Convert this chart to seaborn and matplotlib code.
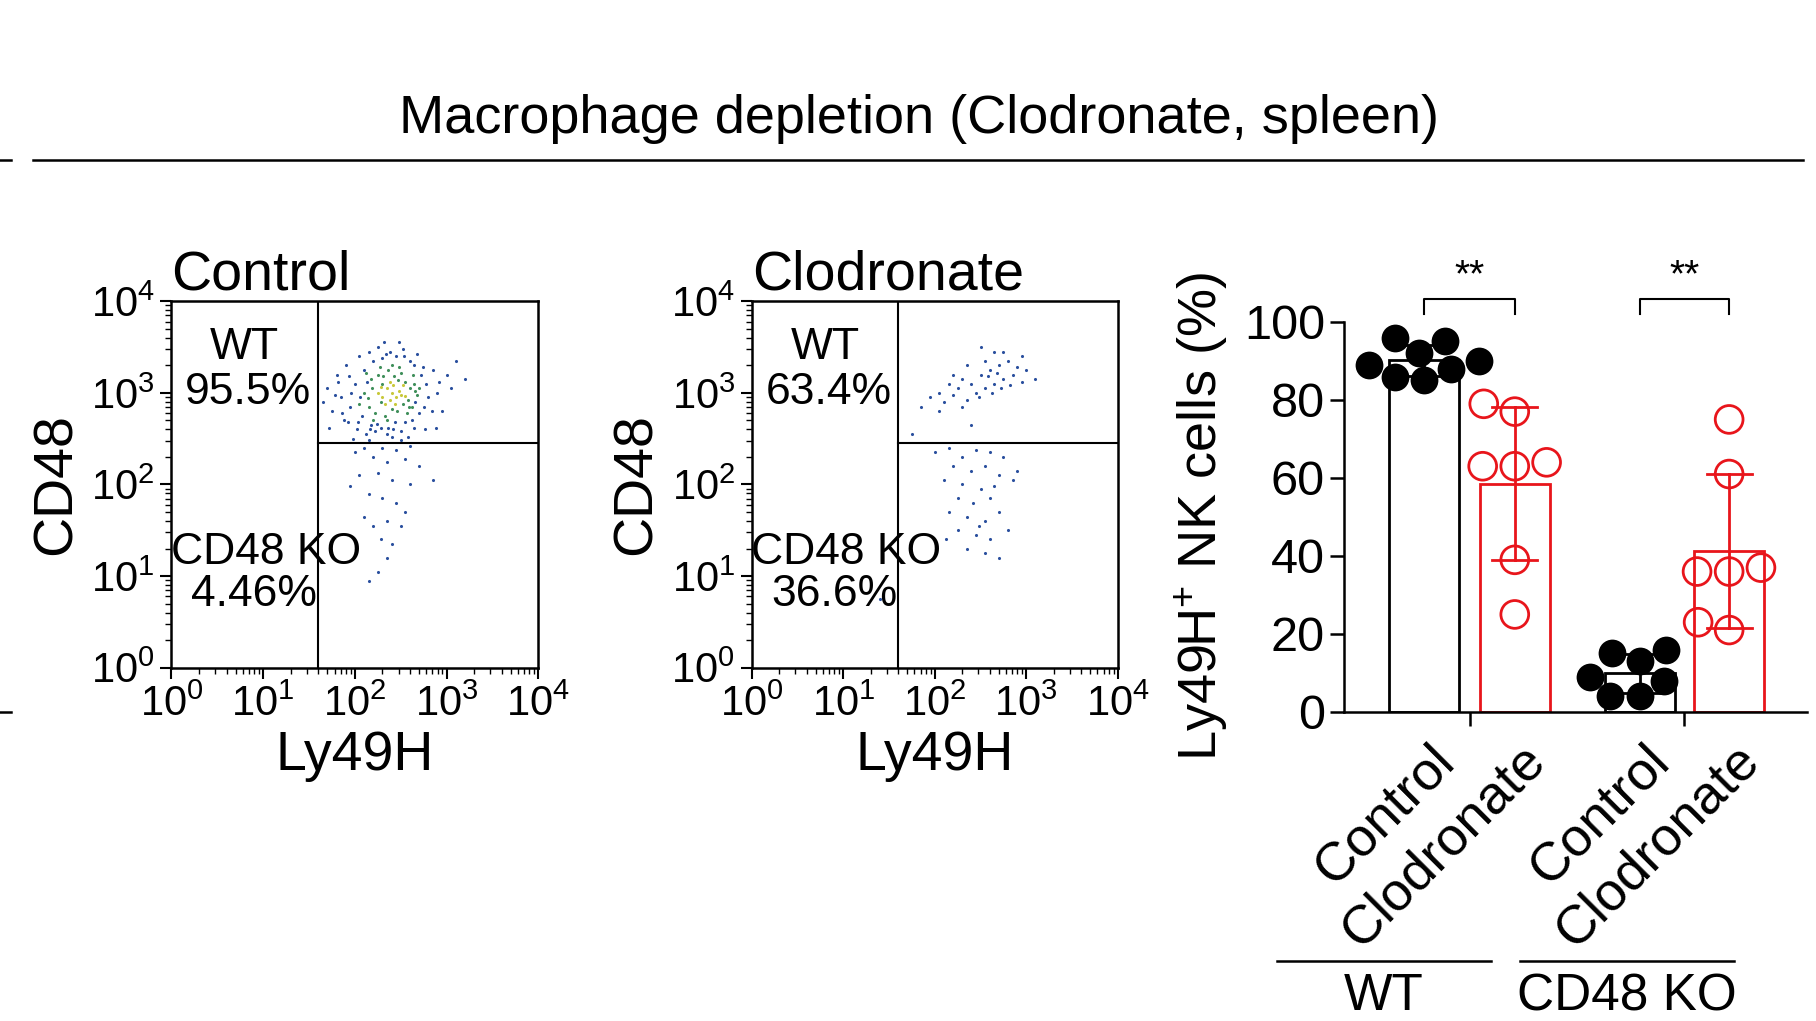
import numpy as np
import pandas as pd
import matplotlib
matplotlib.use("Agg")
import matplotlib.pyplot as plt
import seaborn as sns
from matplotlib.lines import Line2D

plt.rcParams["font.family"] = "Liberation Sans"
plt.rcParams["mathtext.fontset"] = "custom"
plt.rcParams["mathtext.rm"] = "Liberation Sans"

# ---------------- data ----------------
groups = ["Control", "Clodronate", "Control", "Clodronate"]
genotypes = ["WT", "CD48 KO"]
wt_control = [95, 96, 92, 89, 88, 86, 85, 90]
wt_clodronate = [79, 77, 63, 64, 63, 39, 25]
ko_control = [15, 13, 16, 8, 9, 4, 4]
ko_clodronate = [75, 61, 36, 37, 36, 23, 21]
sig_labels = ["**", "**"]

gate_x = 1.6   # log10 Ly49H gate
gate_y = 2.45  # log10 CD48 gate
ctrl_pct = ["95.5%", "4.46%"]
clod_pct = ["63.4%", "36.6%"]
decade_labels = [r"$\mathregular{10^{%d}}$" % i for i in range(5)]

# flow events (log10 Ly49H, log10 CD48)
ctrl_outer = [(1.70,3.05),(1.75,2.80),(1.80,3.20),(1.85,2.95),(1.88,2.70),(1.90,3.30),(1.95,2.85),(2.00,3.10),
              (2.02,2.60),(2.05,3.40),(2.08,2.75),(2.10,3.25),(2.12,2.55),(2.15,3.45),(2.18,2.65),(2.20,3.35),
              (2.22,2.58),(2.25,3.50),(2.28,2.62),(2.30,3.38),(2.35,2.55),(2.38,3.45),(2.42,2.60),(2.45,3.40),
              (2.50,2.58),(2.52,3.48),(2.55,2.68),(2.60,3.35),(2.62,2.70),(2.65,3.30),(2.70,2.78),(2.72,3.20),
              (2.75,2.85),(2.78,3.10),(2.80,2.95),(2.85,3.25),(2.90,3.00),(2.95,2.80),(3.00,3.20),(3.10,3.35),
              (3.20,3.15),(1.65,2.90),(1.72,2.62),(2.40,2.52),(2.58,2.52),(2.88,2.62),(1.98,2.50),(3.05,3.05),
              (1.82,3.12),(2.68,3.42),(1.92,2.68),(2.48,3.55),(2.32,3.55),(2.76,2.60),(2.06,2.95),(2.66,2.90),
              (1.78,2.98),(1.86,2.78),(1.94,3.18),(2.03,2.68),(2.13,3.12),(2.24,2.66),(2.34,3.42),(2.44,2.68),
              (2.54,3.40),(2.64,2.62),(2.74,3.28),(2.84,2.80),(2.92,3.12),(1.96,3.00),(2.16,2.60),(2.36,2.62)]
ctrl_mid = [(2.10,3.00),(2.15,2.85),(2.18,3.15),(2.22,2.78),(2.25,3.20),(2.28,2.90),(2.30,3.10),(2.33,2.75),
            (2.36,3.25),(2.40,2.82),(2.43,3.18),(2.46,2.80),(2.50,3.22),(2.52,2.88),(2.55,3.12),(2.58,2.92),
            (2.60,3.05),(2.62,2.85),(2.65,3.10),(2.68,2.98),(2.12,3.22),(2.20,2.70),(2.35,2.70),(2.48,3.28),
            (2.57,2.78),(2.70,3.05),(2.05,2.88),(2.40,3.30),(2.27,3.28),(2.63,3.20),(2.19,3.05),(2.31,3.18),
            (2.47,3.14),(2.59,2.84),(2.14,2.94),(2.66,3.02)]
ctrl_core = [(2.25,3.00),(2.30,2.95),(2.35,3.05),(2.38,2.92),(2.40,3.00),(2.42,3.08),(2.45,2.95),(2.48,3.02),
             (2.50,2.98),(2.33,2.88),(2.44,2.88),(2.52,3.08),(2.28,3.06),(2.38,3.12),(2.55,2.96)]
ctrl_tail = [(2.00,2.35),(2.10,2.40),(2.30,2.40),(2.45,2.38),(2.60,2.42),(2.20,2.30),(2.35,2.25),(2.55,2.28),
             (2.05,2.10),(2.25,2.12),(2.40,2.05),(2.60,2.00),(2.85,2.05),(1.95,1.98),(2.15,1.90),(2.30,1.85),
             (2.45,1.80),(2.55,1.70),(2.10,1.65),(2.20,1.55),(2.35,1.60),(2.50,1.55),(2.28,1.40),(2.40,1.35),
             (2.35,1.20),(2.25,1.05),(2.15,0.95),(2.70,2.20),(2.50,2.48),(2.15,2.48)]
clod_upper = [(1.85,2.85),(1.95,2.95),(2.05,3.00),(2.10,2.90),(2.15,3.10),(2.20,2.98),(2.25,3.05),(2.30,3.15),
              (2.35,2.92),(2.40,3.10),(2.45,3.00),(2.50,3.20),(2.55,3.05),(2.60,3.25),(2.65,3.10),(2.70,3.30),
              (2.75,3.15),(2.80,3.35),(2.85,3.20),(2.90,3.28),(2.95,3.12),(3.00,3.25),(3.10,3.15),(2.20,3.20),
              (2.35,3.30),(2.55,3.35),(2.65,3.45),(2.75,3.45),(2.05,2.80),(2.30,2.85),(2.48,2.95),(2.62,3.00),
              (2.72,3.05),(2.82,3.08),(2.58,3.18),(2.68,3.22),(1.75,2.55),(2.40,2.65),(2.95,3.40),(2.50,3.50)]
clod_lower = [(2.00,2.35),(2.15,2.40),(2.30,2.30),(2.45,2.38),(2.60,2.35),(2.75,2.30),(2.20,2.20),(2.40,2.15),
              (2.55,2.20),(2.70,2.10),(2.10,2.05),(2.30,2.00),(2.50,1.95),(2.65,1.98),(2.85,2.05),(2.25,1.85),
              (2.42,1.80),(2.60,1.85),(2.15,1.70),(2.35,1.65),(2.55,1.60),(2.70,1.70),(2.25,1.50),(2.45,1.45),
              (2.60,1.40),(2.35,1.30),(2.55,1.25),(2.70,1.20),(2.48,1.55),(2.80,1.50),(2.12,1.40),(2.90,2.15),
              (1.40,0.75)]

# ---------------- figure ----------------
fig = plt.figure(figsize=(18.16, 10.21), dpi=100)

fig.text(0.506, 0.883, "Macrophage depletion (Clodronate, spleen)", ha="center", va="center", fontsize=39)
fig.add_artist(Line2D([0.018, 0.993], [0.8435, 0.8435], color="black", lw=1.8))
fig.add_artist(Line2D([0.0, 0.006], [0.8435, 0.8435], color="black", lw=1.8))
fig.add_artist(Line2D([0.0, 0.006], [0.3027, 0.3027], color="black", lw=1.8))

def flow_panel(rect, title, pct, layers):
    ax = fig.add_axes(rect)
    for pts, col in layers:
        df = pd.DataFrame(pts, columns=["lx", "ly"])
        df["x"] = 10 ** df["lx"]
        df["y"] = 10 ** df["ly"]
        sns.scatterplot(data=df, x="x", y="y", ax=ax, color=col, s=5, linewidth=0)
    ax.set_xscale("log")
    ax.set_yscale("log")
    ax.set_xlim(1, 1e4)
    ax.set_ylim(1, 1e4)
    ax.set_xticks([10 ** i for i in range(5)])
    ax.set_yticks([10 ** i for i in range(5)])
    ax.set_xticklabels(decade_labels, fontsize=30)
    ax.set_yticklabels(decade_labels, fontsize=30)
    ax.tick_params(which="major", length=8, width=1.5, pad=4)
    ax.tick_params(which="minor", length=4, width=1.0)
    for s in ax.spines.values():
        s.set_linewidth(1.8)
    ax.axvline(10 ** gate_x, color="black", lw=1.5)
    ax.axhline(10 ** gate_y, xmin=gate_x / 4, xmax=1, color="black", lw=1.5)
    ax.set_xlabel("Ly49H", fontsize=40, labelpad=4)
    ax.set_ylabel("CD48", fontsize=40, labelpad=6)
    ax.text(0.0, 1.0, title, transform=ax.transAxes, fontsize=40, ha="left", va="bottom")
    ax.text(10 ** 0.80, 10 ** 3.5, "WT", fontsize=32, ha="center", va="center")
    ax.text(10 ** 0.84, 10 ** 3.0, pct[0], fontsize=32, ha="center", va="center")
    ax.text(10 ** 1.03, 10 ** 1.26, "CD48 KO", fontsize=32, ha="center", va="center")
    ax.text(10 ** 0.90, 10 ** 0.80, pct[1], fontsize=32, ha="center", va="center")
    return ax

flow_panel([0.0944, 0.346, 0.202, 0.359], "Control", ctrl_pct,
           [(ctrl_outer, "#2a4f9e"), (ctrl_tail, "#2a4f9e"), (ctrl_mid, "#3f8f5a"), (ctrl_core, "#c8c83a")])
flow_panel([0.414, 0.346, 0.2015, 0.359], "Clodronate", clod_pct,
           [(clod_upper, "#2a4f9e"), (clod_lower, "#2a4f9e")])

# ---------------- bar chart ----------------
positions = [0.0, 1.0, 2.38, 3.37]
series = [wt_control, wt_clodronate, ko_control, ko_clodronate]
rows = []
for p, g, vals in zip(positions, groups, series):
    for v in vals:
        rows.append({"pos": p, "treat": g, "val": v})
df = pd.DataFrame(rows)
red = "#e8151b"
pal = {"Control": "black", "Clodronate": red}

ax3 = fig.add_axes([0.740, 0.3027, 0.255, 0.382])
sns.barplot(data=df, x="pos", y="val", hue="treat", palette=pal, native_scale=True,
            fill=False, errorbar="sd", capsize=0.5, dodge=False, width=0.78,
            linewidth=2, err_kws={"linewidth": 2}, legend=False, ax=ax3)
sns.swarmplot(data=df[df.treat == "Control"], x="pos", y="val", color="black",
              native_scale=True, size=20, ax=ax3, zorder=3, warn_thresh=1)
n_before = len(ax3.collections)
sns.swarmplot(data=df[df.treat == "Clodronate"], x="pos", y="val", color=red,
              native_scale=True, size=20, ax=ax3, zorder=3, warn_thresh=1)
for coll in ax3.collections[n_before:]:
    coll.set_facecolor("none")
    coll.set_edgecolor(red)
    coll.set_linewidth(2)

ax3.set_xlim(-0.89, 4.23)
ax3.set_ylim(0, 100)
ax3.set_yticks(range(0, 101, 20))
ax3.set_yticklabels([str(v) for v in range(0, 101, 20)], fontsize=35)
ax3.set_xticks([0.5, 2.875])
ax3.set_xticklabels(["", ""])
ax3.tick_params(length=10, width=1.8)
ax3.set_xlabel("")
ax3.set_ylabel(r"Ly49H$^{+}$ NK cells (%)", fontsize=39, labelpad=10)
sns.despine(ax=ax3)
for s in ax3.spines.values():
    s.set_linewidth(1.8)

for (a, b), lab in zip([(0, 1), (2.38, 3.37)], sig_labels):
    ax3.plot([a, a, b, b], [102, 106, 106, 102], color="black", lw=1.5, clip_on=False)
    ax3.text((a + b) / 2, 107, lab, ha="center", va="bottom", fontsize=28, clip_on=False)

for p, g in zip(positions, groups):
    ax3.text(p + 0.05, -6, g, transform=ax3.transData, rotation=45, ha="right", va="top",
             rotation_mode="anchor", fontsize=39, clip_on=False)

fig.add_artist(Line2D([0.703, 0.821], [0.059, 0.059], color="black", lw=1.8))
fig.add_artist(Line2D([0.837, 0.955], [0.059, 0.059], color="black", lw=1.8))
fig.text(0.762, 0.0, genotypes[0], ha="center", va="bottom", fontsize=37)
fig.text(0.896, 0.0, genotypes[1], ha="center", va="bottom", fontsize=37)

fig.savefig("out.png", dpi=100)
